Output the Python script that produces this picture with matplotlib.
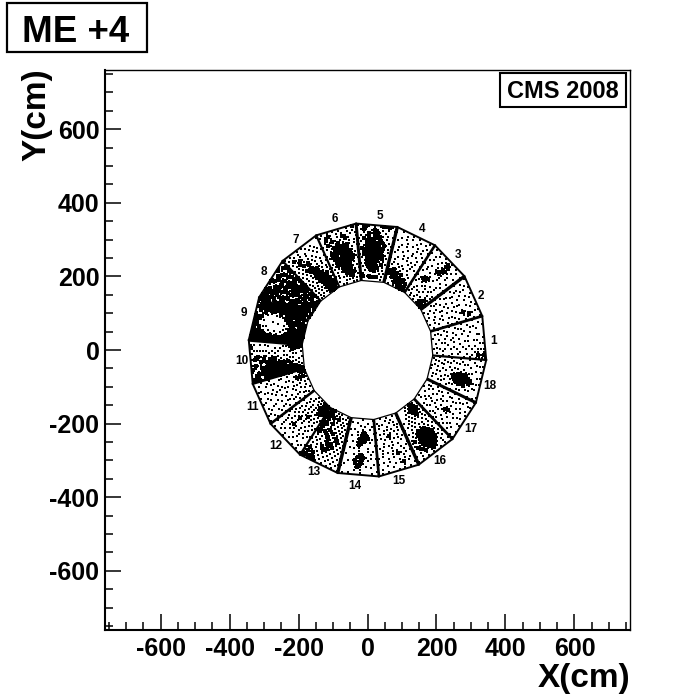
import numpy as np
import matplotlib
matplotlib.use("Agg")
import matplotlib.pyplot as plt
from matplotlib.patches import Rectangle
from matplotlib.ticker import MultipleLocator

plt.rcParams["font.family"] = ["Liberation Sans", "DejaVu Sans"]
plt.rcParams["font.weight"] = "bold"
plt.rcParams["axes.unicode_minus"] = False

# numbers next to the chambers, in cm
label_text = [str(i) for i in range(1, 19)]
label_x = [365, 330, 261, 157, 35, -96, -209, -301, -357, -365, -332, -265, -157, -38, 90, 209, 299, 354]
label_y = [24, 147, 257, 329, 364, 356, 299, 212, 101, -30, -155, -261, -332, -370, -356, -302, -215, -98]

# hits read off each chamber, rows go outer edge to inner edge,
# columns go counter-clockwise side to clockwise side. + is a speck, # a clump
hits_01 = ["..+...+.+.++#+", ".+...+..+.+.++", "...+.+.+..++#+", "+.+....+.+.+.+", "..+.+.....+.+.", ".+...+.+.+...+",
           "...+...+..+.+.", "+.+.+....+...+", "..+...+.+..+..", ".+..+.....+.+.", "...+.+.+.+....", "+.....+...+.+.",
           "..+.+...+....+", ".+...+.+..+...", "...+...+...+.+", "+.+..+....+...", "..+....+.+..+.", "....+.....+..."]
hits_02 = ["+..+.+...+.+.+", "..+...+.+..+..", ".+.+.+...+.+.+", "...+..+.+..#+.", "+.+.+.....+.+.", "..+..+.+.+#+.+",
           ".+.+...+..+...", "...+.+.+.+..+.", "+.+.....+..+.+", "..+.+.+...+...", ".+...+..+.+..+", "...+..+.....+.",
           "+.+...+.+.+...", "..+.+....+...+", ".+...+.+...+..", "...+....+.+...", "+...+.+.....+.", "..+....+..+..."]
hits_03 = [".+.+.+..+.+...", "...+..+#+..+.+", "+.+..+.##.+...", "..+.+.+##+..+.", ".+...+.#+.+..+", "...+.+##+.+...",
           "+.+...+.+...+.", "..+.+...+.+...", ".+...+.+...+.+", "...+##+...+...", "+.+##+..+.+..+", "..+.+.+...+...",
           ".+...+.+.+..+.", "...+...+..+.+.", "+.+.+.+...+.+.", "..+...+.+.+#+.", ".+.+.+..+#+#+#", "...+..+.+.#+#+"]
hits_04 = ["..+...+.+...+.", "+...+.+..+.+..", "..+.+...+...+.", ".+...+.+.+.+.+", "...+.+...+.+..", "+.+...+.+...+.",
           "..+.+...+.+..+", ".+...+.+...+..", "...+.+.+.+.+.+", "+.+.....+.+...", "..+.+.+...+.+.", ".+...+.+.+...+",
           "+.+#+.+...+...", ".#+#+#+#+..+..", "+#+#.#+#+#+...", "..+#+#+#.#+#+.", "+...+#+#+#+#+.", "..+..+.+#+#+#+"]
hits_05 = ["+.+#+.+.+#+#+.", ".+#+.+#+.+.+.+", "..+.#+##+.+...", ".+.+#.###+.+.+", "+.#+###+#+.+..", ".+.#######+.+.",
           "+.+#+####.#+.+", ".#+######+#.+.", "..##.#####+.+.", "+.#+#####+#+..", ".+.######.#.+.", "..+#.####+.+..",
           "+.+#+###+.#.+.", ".+.+#####+.+..", "..+.+###.+.+.+", ".+........+.+.", ".#.+#####+.+..", "...........+.."]
hits_06 = [".+.+.+.+..+.#.", "+.+#+.+.+.+.+.", "..#.+.+.#+.+.+", ".+.+#+.+.#+..+", "+.#+.+#.+.+.+.", ".+.+######+.+.",
           "..+.#+####.+.+", "+.#######+#+..", ".+#+#.#####.+.", "..+######+##+.", ".+.#.######+.+", "+.+#+#####.+..",
           ".+.+.#+###+.+.", "..+.+#####.+.+", "+.+...###+#+..", "..+.+.+.##+.+.", ".+...+.+.+.+.+", "...+.+...+.+.."]
hits_07 = ["+.+..+.+.....+", ".+.+.+..+.+...", "+.#+.+.+.+.+..", ".+.+#+.+..+.+.", "..+#.+.+.+.+.+", "+.+.#+#.+.+...",
           ".+.+..#+.+.+.+", "+.+.#+#+.+.+..", ".+.+.#.##+.+.+", "..+.+.###.+.+.", "+.+.+.####+.+.", ".+.+.+####+#.+",
           "..+.+.#####+.+", "+.+.+.+#####.+", ".+.+.+.#####+.", "..+.+.+#####+#", "+.+.+.+.#####.", ".+.+...+.###+."]
hits_08 = ["+#+#.+#+..#+.+", "#+#+#.+#+#.+#+", "+#.#+#+.#+#+.#", "#+#+#.#+#+.#+#", ".#+#+#+#.#+#+#", "#+.#+#.#+#+.#+",
           "+#+#+.#+#.#+#+", "#.#+#+#+.#+#+#", "+#+.#+#.#+#+.#", "#+#+#.+#+#.#+#", ".#+#+#+.#+#+#+", "#+#.#+#+#+.#+#",
           "+#+#+.#+#+#.#+", "#.#+#+#.#+#+#.", "+#+#.#+#+.#+#+", ".#+.#+#+#.#+.#", "#+#+.#+.#+#+.+", ".+#+#.+#+.#+#."]
hits_09 = ["##+##+#+#+.#+#", "#+##.#+#+.#+##", "###+#+.+#+.###", "##+#.+.+.+#+##", "###+.+...+.###", "#+#.+.....+#+#",
           "###+...+...###", "##+.+.....+.##", "#+#+...+..+#+#", "###.+.....+.##", "#+#+.+.+.+#+##", "##+#+.+.+#+###",
           "#+#+#+#+#+#+##", "##+#.#+#+#+.##", "#+#+#+#+.#+#+#", "+#.##+#+#+#+.#", "#+#+#+.#+#+#+#", "##+.#+#+#+#+.+"]
hits_10 = ["#+.+#+.+.+.#+.", "+#+.+#.#+.+.+.", "#+#+.+.+#.+...", "+.#+#+#.+.+.+.", "#+###.+#+.+...", "+#+##+#.+.+.+.",
           "##+###+#.+..+.", "#+###+##+.+...", "+#+###+#.+.+..", "###+##+.+.+...", "#+##+#.+...+..", "+#+#+#+.+.+.+.",
           "##+#.#+.+...+.", "#+#+#+.+..+.+#", "+#+#.+.+.+.#+#", "#+#+.+...+.+#+", "+#+.+.+.....#+", "#+.+...+..+.+#"]
hits_11 = ["+.+...+.+.+...", "..+.+.+...+.+.", ".+.+...+.+...+", "+...+.+..+.+..", "..+.+...+...+.", ".+...+.+.+.+.+",
           "+.+.+...+..+..", "..+...+.+.+...", ".+.+.+...+..+.", "...+..+.+...+.", "+.+.+...+.+...", "..+...+...+.+.",
           ".+.+.+.+.+...+", "...+...+...+.+", "+.+..+.+.+#+..", "..+.+...+.#+.+", ".+...+.+.+#+#.", "+..+...+.+.+#+"]
hits_12 = ["+.+.+...+...+.", "..+...+.+.+...", ".+.+.+...+.+.+", "+...+.+.+..+..", "..+.+..+.+.+.+", ".+.+.+.+#+.+..",
           "+..+.+..+.+.+.", "..+.+.+.+.+..+", ".+.+..+.#+.+.+", "+.+.+.+.+.+.+.", "..+.+.#+.+.+..", ".+.+.+.+.+.+.+",
           "+.+.+.+.+.+...", "..+#+.+.+..+.+", "+#+#+.+.+.+...", "#+#+#.+..+.+..", "+#+#.+.+.+....", ".#+#+.+.+....."]
hits_13 = ["+.+.+.+.+#+#+#", ".+.+.+.+.+#+#+", "+.+.+.+.+.#+#+", ".+.+.+.+.+.+#+", "+.+.+.+#+.+.+.", ".+.+.+#+#.+.+.",
           "+.+.#+#+.+.+.+", ".+.+.#+#+.+.+.", "+.+#+.+#+.+.+.", ".+.+#+.+#+.+#+", "+.+.+.#+.+#+#+", ".+.+.+.+#+.+#+",
           "+.+.+.+.+.+#+#", ".+.+.+.+#+.#+#", "+.+.+.+.+.+#+#", ".+.+.+#+.#+#+#", "+.+.+.+.+.#+#+", ".+...+.+.+#+#+"]
hits_14 = ["..+...+...+.+.", "+.....+.+.....", "..+.+.+#+....+", ".+...+#+#...+.", "...+.+#+#+.+..", "+.+.+#+#+.....",
           "..+..+#+.+..+.", ".+.+...+.....+", "...+...+.+.+..", "+.....+#+.....", "..+.+#+#+.+..+", ".+.#+#+#+.....",
           "...+#+#.+..+..", "+...+#+.+.....", "..+...+...+.+.", ".+...+.+......", "...+.....+..+.", "+.....+......."]
hits_15 = ["..+.+.+...+.+.", "+...+...+...+.", "..+.#+.+..+...", ".+.+.+...+.+.+", "...+...+.+....", "+.+.+#.+...+.+",
           "..+..+.+.+.+..", ".+.+...+...+..", "+...+.+.+.+.+.", "..+...+...+..+", ".+.+.+.+.+....", "...+...#+..+.+",
           "+.+.+.+..+.+..", "..+..+.+.+...+", ".+.+...+...+..", "...+.+...+.+..", "+...+..+....+.", "..+...+...+..."]
hits_16 = ["..+.+..+.+.+.+", "+.+..+#+.+.+..", "..+.+#+#+#.+.+", ".+.+#+###+#+..", "+.+#+#####+#.+", ".+.+######+.+.",
           "..+#+#####.#+.", "+.+.######+.+.", ".+.+.####+.+..", "..+.+.+.+.+.+.", "+.+.+.+.+.+...", ".+.+...+.+.+.+",
           "..+.+.+.+.+...", "+.+.#+.+.+..+.", ".+.#+#+.+.+...", "..#+#+#+.+....", "+.+#+#+.+.....", "..+.#+.+......"]
hits_17 = ["+.+..+...+.+.+", "..+.+..+.+...+", ".+...+.+...+..", "+.+.+...+.+.+.", "..+..+.+...+..", ".+.+...+.+..+.",
           "...+.+.#+..+.+", "+.+...+#+.+...", "..+.+...+...+.", ".+...+.+.+.+.+", "...+.+...+.+..", "+.+...+.+...+.",
           "..+.+...+.+...", ".+...+.+...+..", "...+...+.+.+.+", "+.+.+...+.....", "..+...+...+...", "....+.....+..."]
hits_18 = ["..+.+.+.+...+.", "+.+...+.+.+..+", "..+.+...+.+...", ".+...+.+#+.+.+", "...+.+.##+.+..", "+.+..+###+#...",
           "..+.+.####+.+.", ".+...+#####.+.", "+.+.+.+###+...", "..+.+.+##+.+.+", ".+...+.+.+.+..", "+.+.+...+...+.",
           "..+...+.+.+...", ".+.+.+...+.+.+", "...+...+...+..", "+.+..+.+.+....", "..+.+....+.+..", ".+...+.+......"]
chamber_hits = [hits_01, hits_02, hits_03, hits_04, hits_05, hits_06, hits_07, hits_08, hits_09,
                hits_10, hits_11, hits_12, hits_13, hits_14, hits_15, hits_16, hits_17, hits_18]

# line width of the edge on the counter-clockwise side of each chamber
edge_widths = [2.0, 2.4, 1.9, 2.4, 2.2, 1.6, 1.6, 2.3, 2.4, 1.5, 1.9, 1.6, 2.5, 2.0, 2.4, 2.0, 2.2, 1.6]

r_in = 187.0
r_out = 340.0
half_open = np.radians(10.0)
first_phi = 5.5
step_phi = 20.0


def local_to_xy(phi, r, v):
    # r along the chamber axis, v is -1 to 1 across, scaled with the trapezoid
    s = r * np.tan(half_open) * v
    return r * np.cos(phi) - s * np.sin(phi), r * np.sin(phi) + s * np.cos(phi)


fig = plt.figure(figsize=(7, 7), dpi=100)
ax = fig.add_axes([105 / 700, 70 / 700, 525 / 700, 560 / 700])
ax.set_xlim(-761, 761)
ax.set_ylim(-761, 761)

speck_x, speck_y, clump_x, clump_y = [], [], [], []
for k, rows in enumerate(chamber_hits):
    phi = np.radians(first_phi + step_phi * k)
    n_r = len(rows)
    for i, row in enumerate(rows):
        r = r_out - (i + 0.5) * (r_out - r_in) / n_r
        for j, c in enumerate(row):
            v = 1 - 2 * (j + 0.5) / len(row)
            x, y = local_to_xy(phi, r, v)
            if c == "+":
                speck_x.append(x)
                speck_y.append(y)
            elif c == "#":
                clump_x.append(x)
                clump_y.append(y)

    # side edge, outer edge, inner edge
    x0, y0 = local_to_xy(phi, r_in, 1)
    x1, y1 = local_to_xy(phi, r_out, 1)
    x2, y2 = local_to_xy(phi, r_out, -1)
    x3, y3 = local_to_xy(phi, r_in, -1)
    ax.plot([x0, x1], [y0, y1], color="k", lw=edge_widths[k], solid_capstyle="butt", zorder=3)
    ax.plot([x1, x2], [y1, y2], color="k", lw=1.4, zorder=3)
    ax.plot([x3, x0], [y3, y0], color="k", lw=0.9, zorder=3)

ax.plot(speck_x, speck_y, "s", color="k", ms=1.5, mew=0, zorder=2)
ax.plot(clump_x, clump_y, "s", color="k", ms=2.2, mew=0, zorder=2)

for t, x, y in zip(label_text, label_x, label_y):
    ax.text(x, y, t, fontsize=8.5, fontweight="bold", ha="center", va="center")

ax.xaxis.set_major_locator(MultipleLocator(200))
ax.xaxis.set_minor_locator(MultipleLocator(50))
ax.yaxis.set_major_locator(MultipleLocator(200))
ax.yaxis.set_minor_locator(MultipleLocator(50))
ax.tick_params(which="major", direction="in", length=11.5, width=1.1, labelsize=18, pad=5)
ax.tick_params(which="minor", direction="in", length=5.8, width=1.1)
ax.tick_params(axis="y", which="major", pad=4)
for s in ["left", "bottom"]:
    ax.spines[s].set_linewidth(1.5)
for s in ["top", "right"]:
    ax.spines[s].set_linewidth(1.0)

fig.text(630 / 700, 1 - 679 / 700, "X(cm)", fontsize=24, fontweight="bold", ha="right", va="center")
fig.text(37 / 700, 1 - 68 / 700, "Y(cm)", fontsize=24, fontweight="bold", rotation=90, ha="center", va="top")

# title box and the CMS box
fig.add_artist(Rectangle((7 / 700, 1 - 52 / 700), 140 / 700, 49 / 700, transform=fig.transFigure,
                         fc="white", ec="k", lw=1.6))
fig.text(76 / 700, 1 - 32 / 700, "ME +4", fontsize=26.5, fontweight="bold", ha="center", va="center")
fig.add_artist(Rectangle((500 / 700, 1 - 107 / 700), 126 / 700, 34 / 700, transform=fig.transFigure,
                         fc="white", ec="k", lw=1.5))
fig.text(563 / 700, 1 - 91 / 700, "CMS 2008", fontsize=17, fontweight="bold", ha="center", va="center")

fig.savefig("out.png", dpi=100)
